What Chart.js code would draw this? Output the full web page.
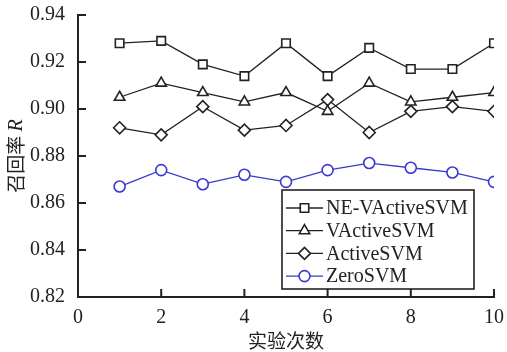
<!DOCTYPE html>
<html>
<head>
<meta charset="utf-8">
<script src="https://cdn.jsdelivr.net/npm/chart.js@4/dist/chart.umd.min.js"></script>
<style>
  html, body { margin: 0; padding: 0; background: #fff; }
  #wrap { width: 507px; height: 352px; }
</style>
</head>
<body>
<div id="wrap"><canvas id="Plot" width="507" height="352"></canvas></div>
<script>
// 实验次数
var runs = [1, 2, 3, 4, 5, 6, 7, 8, 9, 10];
// recall R per method
var neVActive = [0.928, 0.929, 0.919, 0.914, 0.928, 0.914, 0.926, 0.917, 0.917, 0.928];
var vActive   = [0.905, 0.911, 0.907, 0.903, 0.907, 0.899, 0.911, 0.903, 0.905, 0.907];
var active    = [0.892, 0.889, 0.901, 0.891, 0.893, 0.904, 0.890, 0.899, 0.901, 0.899];
var zeroSvm   = [0.867, 0.874, 0.868, 0.872, 0.869, 0.874, 0.877, 0.875, 0.873, 0.869];
var names = ['NE-VActiveSVM', 'VActiveSVM', 'ActiveSVM', 'ZeroSVM'];
var xTicks = [0, 2, 4, 6, 8, 10];
var yTicks = [0.82, 0.84, 0.86, 0.88, 0.90, 0.92, 0.94];

var ink = '#222';
var blue = '#3a3acc';
var serif = '"Liberation Serif", "DejaVu Serif", serif';
var cjk = '"Noto Sans CJK SC", "Liberation Serif", serif';

function pts(vals) {
  return vals.map(function (v, i) { return {x: runs[i], y: v}; });
}

function series(label, vals, style, r, color) {
  return {
    label: label,
    data: pts(vals),
    borderColor: color,
    backgroundColor: color,
    borderWidth: 1.3,
    pointStyle: style,
    pointRadius: r,
    pointHoverRadius: r,
    pointBorderWidth: 1.6,
    pointBorderColor: color,
    pointBackgroundColor: 'rgba(255,255,255,1)',
    tension: 0
  };
}

// ticks point inward, like the original figure
var innerTicks = {
  id: 'innerTicks',
  afterDraw: function (chart) {
    var c = chart.ctx, a = chart.chartArea;
    var xs = chart.scales.x, ys = chart.scales.y;
    c.save();
    c.strokeStyle = ink;
    c.lineWidth = 2;
    c.beginPath();
    yTicks.forEach(function (v) {
      var y = ys.getPixelForValue(v);
      c.moveTo(a.left, y); c.lineTo(a.left + 8, y);
    });
    xTicks.forEach(function (v) {
      var x = xs.getPixelForValue(v);
      c.moveTo(x, a.bottom); c.lineTo(x, a.bottom - 8);
    });
    c.stroke();
    c.restore();
  }
};

// y title with italic R
var yTitle = {
  id: 'yTitle',
  afterDraw: function (chart) {
    var c = chart.ctx, a = chart.chartArea;
    c.save();
    c.translate(16, (a.top + a.bottom) / 2);
    c.rotate(-Math.PI / 2);
    c.fillStyle = ink;
    c.textBaseline = 'middle';
    var t1 = '召回率 ';
    c.font = '19px ' + cjk;
    var w1 = c.measureText(t1).width;
    c.font = 'italic 20px ' + serif;
    var w2 = c.measureText('R').width;
    var x0 = -(w1 + w2) / 2;
    c.font = '19px ' + cjk;
    c.textAlign = 'left';
    c.fillText(t1, x0, 0);
    c.font = 'italic 20px ' + serif;
    c.fillText('R', x0 + w1, 1);
    c.restore();
  }
};

// boxed legend inside the lower right of the plot
var legendBox = {
  id: 'legendBox',
  afterDraw: function (chart) {
    var c = chart.ctx, a = chart.chartArea;
    var w = 192, h = 99;
    var x0 = a.right - 20 - w, y0 = a.bottom - 8 - h;
    c.save();
    c.fillStyle = '#fff';
    c.fillRect(x0, y0, w, h);
    c.strokeStyle = ink;
    c.lineWidth = 1.6;
    c.strokeRect(x0, y0, w, h);
    chart.data.datasets.forEach(function (ds, i) {
      var y = y0 + 18 + i * 22.7;
      c.strokeStyle = ds.borderColor;
      c.lineWidth = 1.3;
      c.beginPath();
      c.moveTo(x0 + 4, y); c.lineTo(x0 + 41, y);
      c.stroke();
      c.fillStyle = '#fff';
      c.lineWidth = 1.6;
      Chart.helpers.drawPoint(c, {pointStyle: ds.pointStyle, radius: ds.pointRadius, rotation: 0, borderWidth: 1.6}, x0 + 22.5, y);
      c.fillStyle = ink;
      c.font = '20px ' + serif;
      c.textAlign = 'left';
      c.textBaseline = 'middle';
      c.fillText(ds.label, x0 + 44, y + 1);
    });
    c.restore();
  }
};

var ctx = document.getElementById('Plot').getContext('2d');
var myChart = new Chart(ctx, {
  type: 'line',
  data: {
    datasets: [
      series(names[0], neVActive, 'rect', 6, ink),
      series(names[1], vActive, 'triangle', 6, ink),
      series(names[2], active, 'rectRot', 6, ink),
      series(names[3], zeroSvm, 'circle', 5.5, blue)
    ]
  },
  options: {
    responsive: false,
    animation: false,
    layout: { padding: { left: 0, right: 13, top: 15, bottom: 0 } },
    plugins: {
      legend: { display: false },
      tooltip: { enabled: false }
    },
    scales: {
      x: {
        type: 'linear',
        min: 0, max: 10,
        afterFit: function (s) { s.height = 55; s.paddingLeft = 0; s.paddingRight = 0; },
        afterBuildTicks: function (s) { s.ticks = xTicks.map(function (v) { return {value: v}; }); },
        grid: { display: false },
        border: { display: true, color: ink, width: 2 },
        ticks: { color: ink, padding: 1, font: { family: serif, size: 20 } },
        title: { display: true, text: '实验次数', color: ink, padding: 0, font: { family: cjk, size: 19 } }
      },
      y: {
        min: 0.82, max: 0.94,
        afterFit: function (s) { s.width = 78; s.paddingTop = 0; s.paddingBottom = 0; },
        afterBuildTicks: function (s) { s.ticks = yTicks.map(function (v) { return {value: v}; }); },
        grid: { display: false },
        border: { display: true, color: ink, width: 2 },
        ticks: {
          color: ink, padding: 5, font: { family: serif, size: 20 },
          callback: function (v) { return v.toFixed(2); }
        }
      }
    }
  },
  plugins: [innerTicks, yTitle, legendBox]
});
</script>
</body>
</html>
